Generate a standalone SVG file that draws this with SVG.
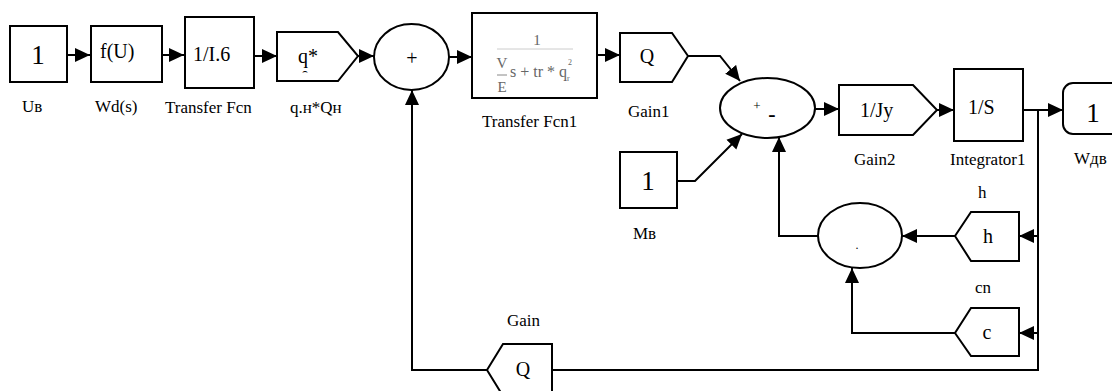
<svg xmlns="http://www.w3.org/2000/svg" width="1112" height="391" viewBox="0 0 1112 391">
<defs>
<marker id="arr" markerUnits="userSpaceOnUse" markerWidth="16" markerHeight="16" viewBox="0 0 16 16" refX="15" refY="8" orient="auto">
<path d="M0,1 L15,8 L0,15 Z" fill="#000"/>
</marker>
<style>
.b{fill:#fff;stroke:#000;stroke-width:2}
.c{fill:none;stroke:#000;stroke-width:2}
.big{font:27px "Liberation Serif","Times New Roman",serif;fill:#000}
.in{font:20px "Liberation Serif","Times New Roman",serif;fill:#000}
.lb{font:17px "Liberation Serif","Times New Roman",serif;fill:#000}
.fr{font-family:"Liberation Serif","Times New Roman",serif;fill:#666}
</style>
</defs>
<rect width="1112" height="391" fill="#fff"/>

<g id="connectors">
<path class="c" d="M67,55 H90" marker-end="url(#arr)"/>
<path class="c" d="M162,55 H184" marker-end="url(#arr)"/>
<path class="c" d="M254,56 H277" marker-end="url(#arr)"/>
<path class="c" d="M358,56 H374" marker-end="url(#arr)"/>
<path class="c" d="M449,57 H472" marker-end="url(#arr)"/>
<path class="c" d="M597,55 H620" marker-end="url(#arr)"/>
<path class="c" d="M688,56 H720 L740,81" marker-end="url(#arr)"/>
<path class="c" d="M677,181 H695 L742,134" marker-end="url(#arr)"/>
<path class="c" d="M815,109 H839" marker-end="url(#arr)"/>
<path class="c" d="M937,110 H954" marker-end="url(#arr)"/>
<path class="c" d="M1023,110 H1063" marker-end="url(#arr)"/>
<path class="c" d="M1038,110 V370 H552"/>
<path class="c" d="M487,370 H412 V90" marker-end="url(#arr)"/>
<path class="c" d="M1038,236 H1019" marker-end="url(#arr)"/>
<path class="c" d="M1038,333 H1019" marker-end="url(#arr)"/>
<path class="c" d="M955,236 H902" marker-end="url(#arr)"/>
<path class="c" d="M955,333 H852 V268" marker-end="url(#arr)"/>
<path class="c" d="M818,236 H779 V137" marker-end="url(#arr)"/>
</g>

<g id="Ub">
<rect class="b" x="10" y="26" width="57" height="56"/>
<text class="big" x="38" y="64" text-anchor="middle">1</text>
<text class="lb" x="22" y="112">Uв</text>
</g>

<g id="Wd">
<rect class="b" x="91" y="26" width="71" height="56"/>
<text class="in" x="100" y="58">f(U)</text>
<text class="lb" x="95" y="112">Wd(s)</text>
</g>

<g id="TransferFcn">
<rect class="b" x="185" y="17" width="69" height="71"/>
<text class="in" x="193" y="61">1/I.6</text>
<text class="lb" x="165" y="113">Transfer Fcn</text>
</g>

<g id="qnQn">
<path class="b" d="M277,32 H338 L358,56 L338,81 H277 Z"/>
<text class="in" x="298" y="63">q*</text>
<text x="305" y="74" font-family="DejaVu Sans,sans-serif" font-size="9" text-anchor="middle">⌢</text>
<text class="lb" x="290" y="113">q.н*Qн</text>
</g>

<g id="Sum1">
<ellipse class="b" cx="411.5" cy="57" rx="37.5" ry="33"/>
<text class="in" x="412" y="65" text-anchor="middle">+</text>
</g>

<g id="TransferFcn1">
<rect class="b" x="472" y="13" width="125" height="85"/>
<text class="fr" x="537" y="45" font-size="15" text-anchor="middle">1</text>
<line x1="497" y1="49" x2="573" y2="49" stroke="#ccc" stroke-width="1"/>
<text class="fr" x="502" y="68" font-size="15" text-anchor="middle">V</text>
<line x1="497" y1="75" x2="507" y2="75" stroke="#888" stroke-width="1"/>
<text class="fr" x="502" y="92" font-size="15" text-anchor="middle">E</text>
<text class="fr" x="510" y="77" font-size="16">s + tr * q</text>
<text class="fr" x="567" y="81" font-size="8">r</text>
<text class="fr" x="568" y="65" font-size="8">2</text>
<text class="lb" x="482" y="127">Transfer Fcn1</text>
</g>

<g id="Gain1">
<path class="b" d="M620,33 H672 L688,56 L672,82 H620 Z"/>
<text class="in" x="647" y="63" text-anchor="middle">Q</text>
<text class="lb" x="628" y="117">Gain1</text>
</g>

<g id="Mb">
<rect class="b" x="620" y="152" width="57" height="56"/>
<text class="big" x="648" y="190" text-anchor="middle">1</text>
<text class="lb" x="633" y="239">Mв</text>
</g>

<g id="Sum2">
<ellipse class="b" cx="767.5" cy="108" rx="47.5" ry="30"/>
<text x="757" y="110" font-family="Liberation Serif,serif" font-size="13" text-anchor="middle">+</text>
<text x="772" y="121" font-family="Liberation Serif,serif" font-size="22" font-weight="bold" text-anchor="middle">-</text>
</g>

<g id="Gain2">
<path class="b" d="M839,85 H913 L937,110 L913,135 H839 Z"/>
<text class="in" x="860" y="117">1/Jy</text>
<text class="lb" x="854" y="165">Gain2</text>
</g>

<g id="Integrator1">
<rect class="b" x="954" y="69" width="69" height="72"/>
<text class="in" x="968" y="114">1/S</text>
<text class="lb" x="950" y="165">Integrator1</text>
</g>

<g id="Wdv">
<rect class="b" x="1063" y="83" width="70" height="51" rx="10"/>
<text class="big" x="1093" y="122" text-anchor="middle">1</text>
<text class="lb" x="1074" y="164">Wдв</text>
</g>

<g id="Product">
<ellipse class="b" cx="860" cy="235.5" rx="42" ry="32.5"/>
<text x="857" y="249" font-family="Liberation Serif,serif" font-size="12" text-anchor="middle">.</text>
</g>

<g id="hGain">
<path class="b" d="M1019,212 H971 L955,236 L971,261 H1019 Z"/>
<text class="in" x="988" y="243" text-anchor="middle">h</text>
<text class="lb" x="978" y="198">h</text>
</g>

<g id="cnGain">
<path class="b" d="M1019,308 H971 L955,333 L971,356 H1019 Z"/>
<text class="in" x="987" y="339" text-anchor="middle">c</text>
<text class="lb" x="975" y="293">cn</text>
</g>

<g id="Gain">
<path class="b" d="M552,344 H503 L487,370 L503,396 H552 Z"/>
<text class="in" x="523" y="376" text-anchor="middle">Q</text>
<text class="lb" x="507" y="326">Gain</text>
</g>
</svg>
